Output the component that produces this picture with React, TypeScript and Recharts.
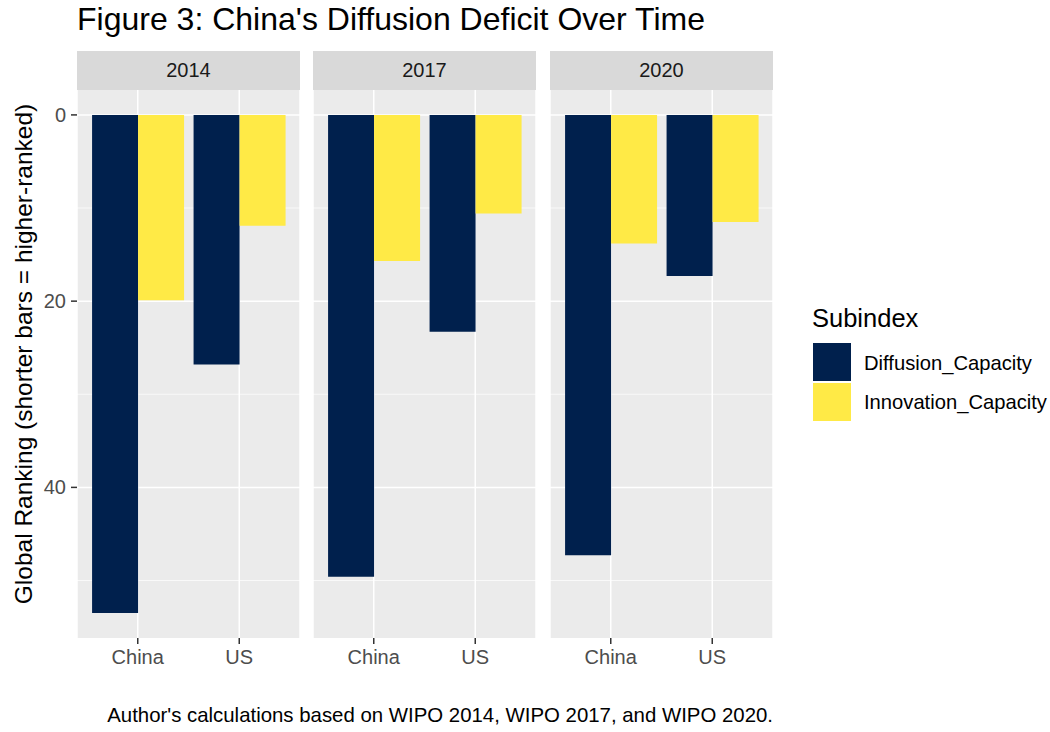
import { BarChart, Bar, XAxis, YAxis, CartesianGrid } from 'recharts'

const countries = ['China', 'US']
const years = ['2014', '2017', '2020']
// global ranks (lower = better)
const diffusion2014 = [53.5, 26.8]
const innovation2014 = [19.9, 11.9]
const diffusion2017 = [49.6, 23.3]
const innovation2017 = [15.7, 10.6]
const diffusion2020 = [47.3, 17.3]
const innovation2020 = [13.8, 11.5]
const majorTicks = [0, 20, 40]
const minorTicks = [10, 30, 50]
const yDomain = [-2.675, 56.175]

const diffusionByYear = [diffusion2014, diffusion2017, diffusion2020]
const innovationByYear = [innovation2014, innovation2017, innovation2020]

const DIFF = '#00204D'
const INNO = '#FFEA46'
const FONT = '"Liberation Sans", Arial, Helvetica, sans-serif'

const PANEL_TOP = 90
const PANEL_H = 548
const PANEL_W = 223
const AXIS_W = 77
const panelLefts = [77, 313, 550]

function Panel({ idx }: { idx: number }) {
  const data = countries.map((c, i) => ({
    country: c,
    Diffusion_Capacity: diffusionByYear[idx][i],
    Innovation_Capacity: innovationByYear[idx][i],
  }))
  const showY = idx === 0
  const width = showY ? PANEL_W + AXIS_W : PANEL_W
  const left = showY ? 0 : panelLefts[idx]
  return (
    <div style={{ position: 'absolute', left, top: PANEL_TOP }}>
      <BarChart width={width} height={PANEL_H + 42} data={data}
        margin={{ top: 0, right: 0, bottom: 0, left: 0 }} barCategoryGap="5%" barGap={0}>
        <CartesianGrid horizontalValues={minorTicks} vertical={false} fill="#EBEBEB" stroke="#FFFFFF" strokeWidth={0.7} />
        <CartesianGrid horizontalValues={majorTicks} stroke="#FFFFFF" strokeWidth={1.5} />
        <XAxis dataKey="country" height={42} padding={{ left: 10, right: 10 }}
          axisLine={false} tickSize={6} tickMargin={6}
          tickLine={{ stroke: '#333333', strokeWidth: 1.5 }}
          tick={{ fontSize: 20, fill: '#4D4D4D', fontFamily: FONT }} />
        <YAxis hide={!showY} width={AXIS_W} reversed domain={yDomain} allowDataOverflow ticks={majorTicks}
          axisLine={false} tickSize={6} tickMargin={5}
          tickLine={{ stroke: '#333333', strokeWidth: 1.5 }}
          tick={{ fontSize: 20, fill: '#4D4D4D', fontFamily: FONT }} />
        <Bar dataKey="Diffusion_Capacity" fill={DIFF} isAnimationActive={false} />
        <Bar dataKey="Innovation_Capacity" fill={INNO} isAnimationActive={false} />
      </BarChart>
    </div>
  )
}

export default function App() {
  return (
    <div style={{ position: 'relative', width: 1050, height: 732, background: '#fff', fontFamily: FONT }}>
      <style>{'body{margin:0}'}</style>
      <svg width={1050} height={732} style={{ position: 'absolute', left: 0, top: 0 }}>
        <text x={77} y={30} fontSize={32} fill="#000" fontFamily={FONT}>Figure 3: China's Diffusion Deficit Over Time</text>
        {years.map((y, i) => (
          <g key={y}>
            <rect x={panelLefts[i]} y={51} width={PANEL_W} height={39} fill="#D9D9D9" />
            <text x={panelLefts[i] + PANEL_W / 2} y={77} textAnchor="middle" fontSize={20} fill="#1A1A1A" fontFamily={FONT}>{y}</text>
          </g>
        ))}
        <text transform="translate(32,354) rotate(-90)" textAnchor="middle" fontSize={24.5} fill="#000" fontFamily={FONT}>
          Global Ranking (shorter bars = higher-ranked)
        </text>
        <text x={812} y={327} fontSize={25.5} fill="#000" fontFamily={FONT}>Subindex</text>
        <rect x={813} y={343} width={38} height={38} fill={DIFF} />
        <rect x={813} y={383} width={38} height={38} fill={INNO} />
        <text x={864} y={370} fontSize={20.2} fill="#000" fontFamily={FONT}>Diffusion_Capacity</text>
        <text x={864} y={409} fontSize={20.2} fill="#000" fontFamily={FONT}>Innovation_Capacity</text>
        <text x={773} y={722} textAnchor="end" fontSize={20.4} fill="#000" fontFamily={FONT}>
          Author's calculations based on WIPO 2014, WIPO 2017, and WIPO 2020.
        </text>
      </svg>
      {years.map((y, i) => <Panel key={y} idx={i} />)}
    </div>
  )
}
